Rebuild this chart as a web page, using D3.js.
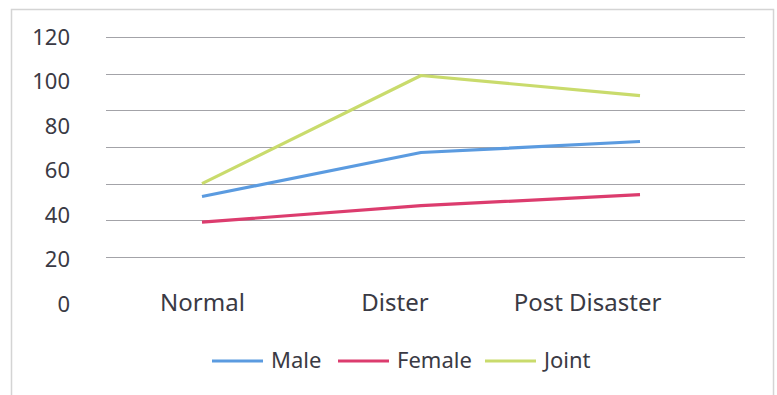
<!DOCTYPE html>
<html lang="en">
<head>
    <meta charset="UTF-8">
    <script src="https://d3js.org/d3.v7.min.js"></script>
    <style>
        body { margin: 0; background: #fff; }
        text { font-family: "Noto Sans", sans-serif; fill: #3a3a44; }
    </style>
</head>
<body>
    <div id="container"></div>
    <script>
        // chart values
        const categories = ["Normal", "Dister", "Post Disaster"];
        const seriesNames = ["Male", "Female", "Joint"];
        const male = [33, 57, 63];
        const female = [19, 28, 34];
        const joint = [40, 99, 88];
        const yTicks = [0, 20, 40, 60, 80, 100, 120];
        const seriesColors = ["#5b9be0", "#dc3c6e", "#c9db6c"];

        const series = [male, female, joint];
        const w = 777, h = 395;

        const svg = d3.select("#container")
            .append("svg")
            .attr("width", w)
            .attr("height", h)
            .style("display", "block");

        // outer frame
        svg.append("rect")
            .attr("x", 11.5).attr("y", 9.5)
            .attr("width", 762).attr("height", 390)
            .attr("fill", "none")
            .attr("stroke", "#d4d4d4")
            .attr("stroke-width", 1.5);

        // data scale (gridlines + lines)
        const yScale = d3.scaleLinear().domain([0, 120]).range([257, 37]);
        // tick label placement (labels sit on their own spacing in the picture)
        const yLabelScale = d3.scaleLinear().domain([0, 120]).range([304, 37]);

        const xScale = d3.scalePoint().domain(categories).range([202, 640]);
        const xLabelScale = d3.scalePoint().domain(categories).range([202, 587]);

        // gridlines
        svg.append("g")
            .selectAll("line")
            .data(yTicks.filter(d => d > 0).concat([0]))
            .enter()
            .append("line")
            .attr("x1", 106)
            .attr("x2", 745)
            .attr("y1", d => Math.round(yScale(d)) + 0.5)
            .attr("y2", d => Math.round(yScale(d)) + 0.5)
            .attr("stroke", "#a3a3a8")
            .attr("stroke-width", 1.2);

        // y labels
        const yAxis = d3.axisLeft(yLabelScale)
            .tickValues(yTicks)
            .tickSize(0)
            .tickPadding(0);

        svg.append("g")
            .attr("transform", "translate(70,0)")
            .call(yAxis)
            .call(g => g.select(".domain").remove())
            .selectAll("text")
            .style("font-size", "22px")
            .style("font-family", "'Noto Sans', sans-serif")
            .attr("fill", "#3a3a44");

        // x labels
        const xAxis = d3.axisBottom(xLabelScale)
            .tickSize(0)
            .tickPadding(0);

        svg.append("g")
            .attr("transform", "translate(0,294)")
            .call(xAxis)
            .call(g => g.select(".domain").remove())
            .selectAll("text")
            .style("font-size", "24px")
            .style("font-family", "'Noto Sans', sans-serif")
            .attr("fill", "#3a3a44");

        // lines
        const line = d3.line()
            .x((d, i) => xScale(categories[i]))
            .y(d => yScale(d));

        svg.append("g")
            .selectAll("path")
            .data(series)
            .enter()
            .append("path")
            .attr("d", d => line(d))
            .attr("fill", "none")
            .attr("stroke", (d, i) => seriesColors[i])
            .attr("stroke-width", 3.2)
            .attr("stroke-linejoin", "round");

        // legend
        const legendX = [212, 338, 485];
        const legend = svg.append("g")
            .selectAll("g")
            .data(seriesNames)
            .enter()
            .append("g")
            .attr("transform", (d, i) => "translate(" + legendX[i] + ",361)");

        legend.append("line")
            .attr("x1", 0).attr("x2", 51)
            .attr("y1", 0).attr("y2", 0)
            .attr("stroke", (d, i) => seriesColors[i])
            .attr("stroke-width", 3);

        legend.append("text")
            .attr("x", 59)
            .attr("y", 7)
            .style("font-size", "22px")
            .text(d => d);
    </script>
</body>
</html>
